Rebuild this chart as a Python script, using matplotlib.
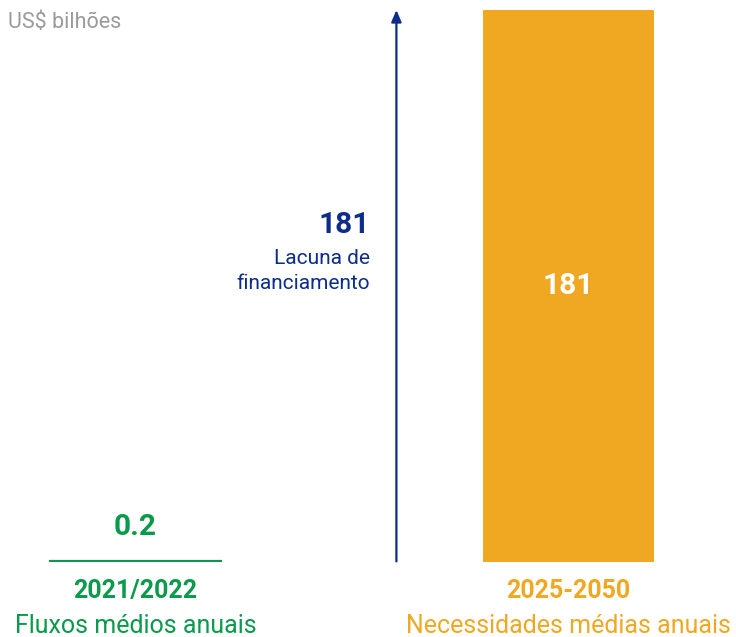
import numpy as np
import matplotlib
matplotlib.use("Agg")
import matplotlib.pyplot as plt

# --- dados ---
periods = ["2021/2022", "2025-2050"]
descriptions = ["Fluxos médios anuais", "Necessidades médias anuais"]
values = [0.2, 181]
value_labels = ["0.2", "181"]
gap_label = "181"
gap_text = "Lacuna de\nfinanciamento"
unit = "US$ bilhões"

# --- cores ---
green = "#0a9a4b"
orange = "#f0a823"
navy = "#0d2d8a"
grey = "#9a9a9a"

plt.rcParams['font.family'] = ['Roboto', 'DejaVu Sans']

W, H = 736, 637
fig = plt.figure(figsize=(W / 100, H / 100), dpi=100)
# eixo posicionado em pixels: base em y=562, topo em y=10
ax = fig.add_axes([0, (H - 562) / H, 1, (562 - 10) / H])
ax.set_axis_off()

x = np.arange(len(values))
bar_w = 171 / 433
ax.set_xlim(-135.5 / 433, (W - 135.5) / 433)
ax.set_ylim(0, max(values))

colors = [green, orange]
ax.bar(x, values, width=bar_w, color=colors, edgecolor=colors, linewidth=[1.6, 0])

# valor sobre a barra verde, dentro da barra laranja
ax.annotate(value_labels[0], (x[0], values[0]), xytext=(0, 25), textcoords="offset points",
            ha="center", va="center", fontsize=21.5, fontweight="bold", color=green)
ax.text(x[1], values[1] / 2, value_labels[1], ha="center", va="center",
        fontsize=21.5, fontweight="bold", color="white")

# rótulos das categorias
for xi, per, desc, c in zip(x, periods, descriptions, colors):
    ax.annotate(per, (xi, 0), xytext=(0, -21), textcoords="offset points",
                ha="center", va="center", fontsize=18, fontweight="bold", color=c,
                annotation_clip=False)
    ax.annotate(desc, (xi, 0), xytext=(0, -46), textcoords="offset points",
                ha="center", va="center", fontsize=18, color=c,
                annotation_clip=False)

# seta da lacuna de financiamento
ax_x = x[1] - bar_w / 2 - 0.2
ax.annotate("", xy=(ax_x, values[1]), xytext=(ax_x, values[0]),
            arrowprops=dict(arrowstyle="-|>,head_length=0.7,head_width=0.3",
                            color=navy, lw=1.6, shrinkA=0, shrinkB=0))
mid = (values[0] + values[1]) / 2
ax.annotate(gap_label, (ax_x, mid), xytext=(-19, 43.5), textcoords="offset points",
            ha="right", va="center", fontsize=21.5, fontweight="bold", color=navy)
ax.annotate(gap_text, (ax_x, mid), xytext=(-19, 10.5), textcoords="offset points",
            ha="right", va="center", fontsize=15, color=navy, linespacing=1.45)

fig.text(8 / W, 1 - 22 / H, unit, ha="left", va="center", fontsize=15.5, color=grey)

plt.savefig("out.png", dpi=100)
